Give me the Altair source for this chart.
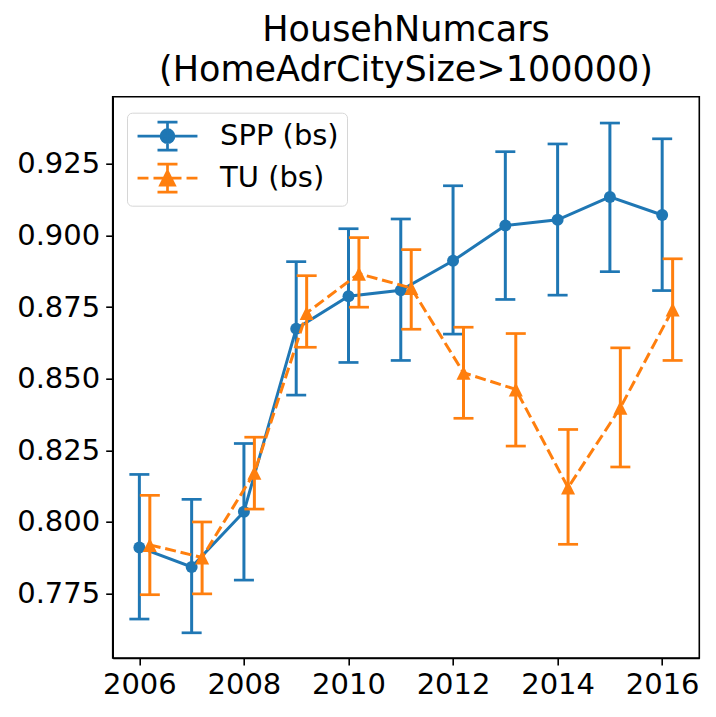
import altair as alt
import pandas as pd

years = [2006, 2007, 2008, 2009, 2010, 2011, 2012, 2013, 2014, 2015, 2016]

spp_mean = [0.7911, 0.7843, 0.8036, 0.8675, 0.8788, 0.8809, 0.8912, 0.9035, 0.9055, 0.9135, 0.9072]
spp_lo = [0.7661, 0.7613, 0.7797, 0.8443, 0.8557, 0.8564, 0.8656, 0.8777, 0.8792, 0.8874, 0.8808]
spp_hi = [0.8166, 0.8079, 0.8274, 0.8909, 0.9024, 0.9058, 0.9174, 0.9293, 0.9320, 0.9393, 0.9338]

tu_mean = [0.7920, 0.7876, 0.8172, 0.8730, 0.8867, 0.8817, 0.8521, 0.8463, 0.8120, 0.8399, 0.8742]
tu_lo = [0.7746, 0.7749, 0.8045, 0.8610, 0.8750, 0.8673, 0.8362, 0.8265, 0.7922, 0.8192, 0.8564]
tu_hi = [0.8093, 0.8000, 0.8296, 0.8860, 0.8993, 0.8951, 0.8680, 0.8658, 0.8323, 0.8608, 0.8919]

series_names = ["SPP (bs)", "TU (bs)"]
series_colors = ["#1f77b4", "#ff7f0e"]
series_shift = [0.0, 0.2]

x_ticks = [2006, 2008, 2010, 2012, 2014, 2016]
y_ticks = [0.775, 0.800, 0.825, 0.850, 0.875, 0.900, 0.925]

rows = []
for name, shift, means, los, his in [
    (series_names[0], series_shift[0], spp_mean, spp_lo, spp_hi),
    (series_names[1], series_shift[1], tu_mean, tu_lo, tu_hi),
]:
    for yr, m, lo, hi in zip(years, means, los, his):
        rows.append({"series": name, "x": yr + shift, "mean": m, "lo": lo, "hi": hi})
df = pd.DataFrame(rows)

FONT = "DejaVu Sans"
xscale = alt.Scale(domain=[2005.49, 2016.71], nice=False, zero=False)
yscale = alt.Scale(domain=[0.7525, 0.9485], nice=False, zero=False)
X = alt.X("x:Q", scale=xscale, axis=alt.Axis(values=x_ticks, format="d", title=None))
def Y(field):
    return alt.Y(field, scale=yscale, axis=alt.Axis(values=y_ticks, format=".3f", title=None))

circle_shape = "circle"
triangle_shape = "M0,-1L-1,1L1,1Z"
marker_shapes = [circle_shape, triangle_shape]
marker_sizes = [143, 196]
dashes = [None, [11, 4.8]]

layers = []
for i, name in enumerate(series_names):
    c = series_colors[i]
    base = alt.Chart(df).transform_filter(alt.datum.series == name)
    layers.append(base.mark_rule(color=c, strokeWidth=3).encode(x=X, y=Y("lo:Q"), y2="hi:Q"))
    layers.append(base.mark_tick(orient="horizontal", color=c, size=20, thickness=2.7, opacity=1)
                  .encode(x=X, y=Y("lo:Q")))
    layers.append(base.mark_tick(orient="horizontal", color=c, size=20, thickness=2.7, opacity=1)
                  .encode(x=X, y=Y("hi:Q")))
    line_kw = dict(color=c, strokeWidth=3)
    if dashes[i] is not None:
        line_kw["strokeDash"] = dashes[i]
    layers.append(base.mark_line(**line_kw).encode(x=X, y=Y("mean:Q")))
    layers.append(base.mark_point(filled=True, opacity=1, color=c, shape=marker_shapes[i],
                                  size=marker_sizes[i]).encode(x=X, y=Y("mean:Q")))

# legend symbols: line + marker + error bar (unit = 14px)
leg_spp = ("M-2.14,0L2.14,0M0,-1L0,1M-0.714,-1L0.714,-1M-0.714,1L0.714,1"
           "M0.464,0A0.464,0.464,0,1,1,-0.464,0A0.464,0.464,0,1,1,0.464,0Z")
leg_tu = ("M-2.14,0L-1.36,0M-1.0,0L-0.21,0M0.21,0L1.0,0M1.36,0L2.14,0"
          "M0,-1L0,1M-0.714,-1L0.714,-1M-0.714,1L0.714,1"
          "M0,-0.5L-0.5,0.5L0.5,0.5Z")

leg = alt.Legend(title=None, orient="none", legendX=14.3, legendY=16,
                 labelFont=FONT, labelFontSize=29, labelColor="black",
                 padding=8, fillColor="white", strokeColor="#d6d6d6", cornerRadius=5,
                 symbolSize=784, symbolStrokeWidth=2.7, symbolOpacity=1,
                 symbolOffset=17, labelOffset=37, rowPadding=3)

legend_layer = alt.Chart(df).mark_point(opacity=0, size=784, filled=True).encode(
    x=X, y=Y("mean:Q"),
    stroke=alt.Stroke("series:N", scale=alt.Scale(domain=series_names, range=series_colors), legend=leg),
    fill=alt.Fill("series:N", scale=alt.Scale(domain=series_names, range=series_colors), legend=leg),
    shape=alt.Shape("series:N", scale=alt.Scale(domain=series_names, range=[leg_spp, leg_tu]), legend=leg),
)
layers.append(legend_layer)

chart = alt.layer(*layers).properties(
    width=586.6, height=561.3,
    title=alt.TitleParams(text=["HousehNumcars", "(HomeAdrCitySize>100000)"], fontSize=35, font=FONT,
                          fontWeight="normal", color="black", anchor="middle", frame="group",
                          offset=-19, lineHeight=39.3, baseline="alphabetic"),
    autosize=alt.AutoSizeParams(type="none"),
    padding={"left": 104.7, "top": 88.7, "right": 8, "bottom": 55},
).configure_view(stroke="black", strokeWidth=1.6).configure_axis(
    labelFont=FONT, labelFontSize=29, labelColor="black", tickColor="black", tickSize=7,
    tickWidth=1.6, domainColor="black", domainWidth=1.6, grid=False, labelPadding=6,
)

chart.save("out.html", embed_options={"renderer": "svg", "actions": False})
